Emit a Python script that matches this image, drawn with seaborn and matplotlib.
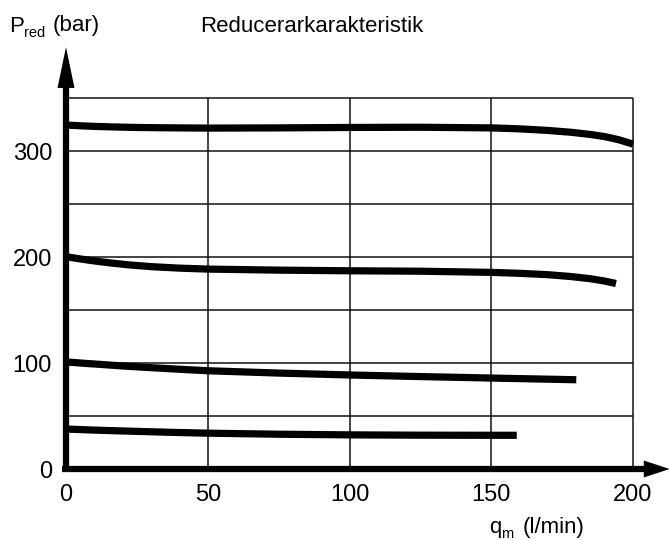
import matplotlib
matplotlib.use("Agg")
import matplotlib.pyplot as plt
import seaborn as sns
import pandas as pd

# ---- data ----
flow_1 = [0, 5, 10, 18, 25, 35, 50, 75, 100, 125, 150, 160, 170, 178, 185, 190, 195, 200]
pres_1 = [324.5, 323.8, 323.2, 322.6, 322.2, 321.9, 321.6, 321.8, 322.2, 322.4, 321.8,
          320.9, 319.4, 317.7, 315.6, 313.6, 310.6, 306.5]

flow_2 = [0, 4, 8, 12, 17, 22, 30, 40, 50, 75, 100, 125, 150, 160, 170, 178, 185, 190, 194]
pres_2 = [200.3, 198.6, 197.0, 195.6, 194.0, 192.6, 190.9, 189.5, 188.6, 187.6, 187.0,
          186.6, 185.5, 184.6, 183.3, 181.6, 179.5, 177.3, 175.0]

flow_3 = [0, 6, 12, 20, 30, 40, 50, 75, 100, 125, 150, 165, 180]
pres_3 = [101.0, 99.8, 98.7, 97.2, 95.6, 94.1, 92.7, 90.5, 88.7, 87.2, 85.8, 85.0, 84.2]

flow_4 = [0, 12, 25, 37, 50, 75, 100, 125, 150, 159]
pres_4 = [37.7, 36.5, 35.5, 34.6, 33.8, 32.8, 32.2, 31.9, 31.8, 31.8]

x_ticks = [0, 50, 100, 150, 200]
y_ticks = [0, 100, 200, 300]
x_grid = [50, 100, 150, 200]
y_grid = [50, 100, 150, 200, 250, 300, 350]

title = "Reducerarkarakteristik"

frames = []
for name, fx, py in [("c1", flow_1, pres_1), ("c2", flow_2, pres_2),
                     ("c3", flow_3, pres_3), ("c4", flow_4, pres_4)]:
    frames.append(pd.DataFrame({"flow": fx, "pres": py, "curve": name}))
df = pd.concat(frames, ignore_index=True)

sns.set_style("white")
FONT = "Liberation Sans"
plt.rcParams["font.family"] = [FONT, "DejaVu Sans"]

W, H, DPI = 669, 540, 100
fig = plt.figure(figsize=(W / DPI, H / DPI), dpi=DPI)
# axes: x 0..200 -> px 66..633 ; y 0..350 -> px 469..98 (from top)
ax = fig.add_axes([66 / W, (H - 469) / H, 567 / W, 371 / H])
ax.set_xlim(0, 200)
ax.set_ylim(0, 350)

# grid
grid_kw = dict(color="#111111", lw=1.1, zorder=1, clip_on=False)
ax.vlines(x_grid, 0, 350, **grid_kw)
ax.hlines(y_grid, 0, 200, **grid_kw)

# curves
sns.lineplot(data=df, x="flow", y="pres", hue="curve", units="curve",
             estimator=None, sort=False, palette=["black"] * 4,
             linewidth=5.2, legend=False, ax=ax, zorder=3)
for ln in ax.get_lines():
    ln.set_solid_capstyle("butt")
    ln.set_solid_joinstyle("round")
    ln.set_clip_on(False)

for s in ax.spines.values():
    s.set_visible(False)

# axis lines with arrow heads
px_x = 567 / 200.0   # px per x unit
px_y = 371 / 350.0   # px per y unit
ax.plot([0, 0], [-2.5, 362], color="black", lw=4.5, solid_capstyle="butt",
        clip_on=False, zorder=4)
ax.plot([-1.3, 205], [0, 0], color="black", lw=4.5, solid_capstyle="butt",
        clip_on=False, zorder=4)
# y arrow head
hw = 8.5 / px_x
ax.fill([-hw, hw, 0], [359.5, 359.5, 398.0], color="black", clip_on=False, zorder=5, lw=0)
# x arrow head
hh = 8.5 / px_y
ax.fill([203.8, 203.8, 212.9], [-hh, hh, 0], color="black", clip_on=False, zorder=5, lw=0)

# ticks
ax.set_xticks(x_ticks)
ax.set_xticklabels([str(v) for v in x_ticks])
ax.set_yticks(y_ticks)
ax.set_yticklabels([str(v) for v in y_ticks])
ax.tick_params(axis="both", length=0, labelsize=17, colors="black")
ax.tick_params(axis="x", pad=11)
ax.tick_params(axis="y", pad=10)
ax.set_xlabel("")
ax.set_ylabel("")


def ftext(xp, yp, s, size):
    fig.text(xp / W, 1 - yp / H, s, fontsize=size, ha="left", va="baseline",
             color="black")


ftext(9.0, 31.5, "P", 16)
ftext(24.5, 36.5, "red", 10.5)
ftext(52.5, 31.5, "(bar)", 16)
ftext(200.5, 31.5, title, 16)
ftext(489.0, 533.0, "q", 16)
ftext(501.5, 537.5, "m", 10.5)
ftext(523.0, 533.0, "(l/min)", 16)

fig.savefig("out.png", dpi=DPI)
